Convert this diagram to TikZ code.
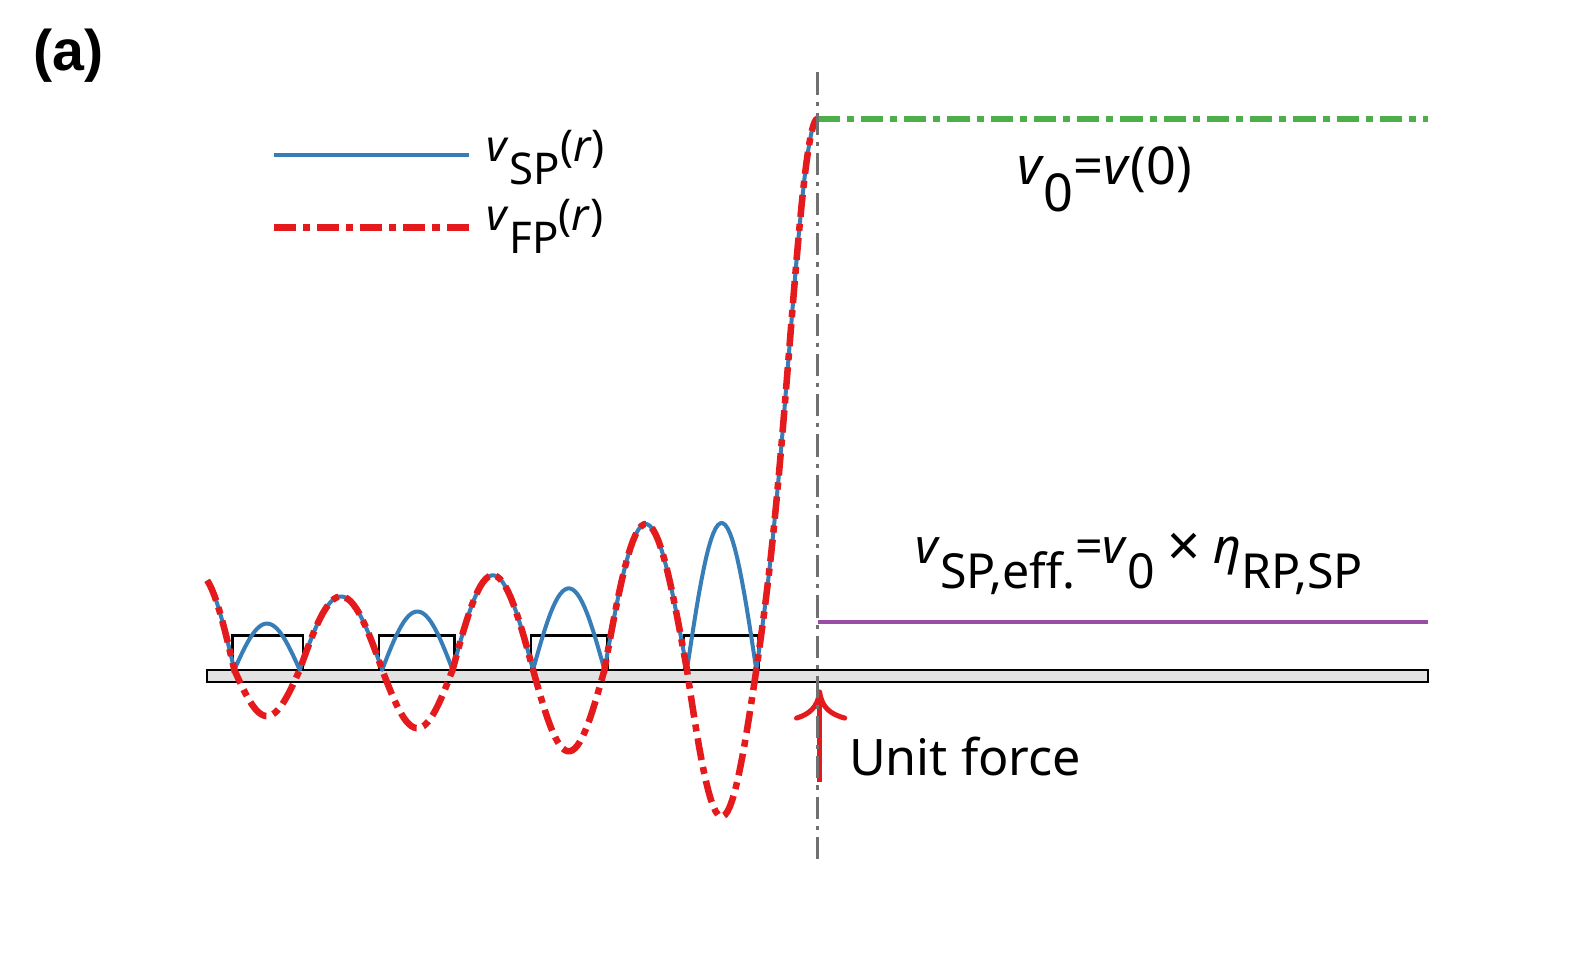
\documentclass[tikz,border=0pt]{standalone}
\usepackage{fontspec}
\setmainfont{Noto Sans}
\newfontfamily\boldarial{Liberation Sans}
\usetikzlibrary{arrows.meta}
\definecolor{cblue}{HTML}{377EB8}
\definecolor{cred}{HTML}{E41A1C}
\definecolor{cgreen}{HTML}{4DAF4A}
\definecolor{cpurple}{HTML}{984EA3}
\definecolor{cgray}{HTML}{707070}
\definecolor{cplate}{HTML}{E2E2E2}
\newcommand\lowsub[1]{\raisebox{-0.52em}{#1}}
\tikzset{
  blueline/.style={draw=cblue, line width=4pt, line join=round},
  redline/.style={draw=cred, line width=6.5pt, dash pattern=on 22pt off 7pt on 7pt off 7pt},
  greenline/.style={draw=cgreen, line width=6pt, dash pattern=on 22pt off 7pt on 7pt off 7pt},
  purpleline/.style={draw=cpurple, line width=4pt},
  axisline/.style={draw=cgray, line width=2.6pt, dash pattern=on 22pt off 7pt on 4pt off 7pt},
  platebox/.style={draw=black, line width=2.6pt, fill=cplate},
  supbox/.style={draw=black, line width=2.4pt},
  forceline/.style={draw=cred, line width=5pt},
  lbl/.style={inner sep=0pt, anchor=base west, font=\fontsize{43.5}{50}\selectfont},
}
\begin{document}
\begin{tikzpicture}[x=1pt,y=-1pt]
\useasboundingbox (0,0) rectangle (1568,968);
% plate
\draw[platebox] (206,666) rectangle (1420,678);
% support boxes
\draw[supbox] (231,666) -- (231,632) -- (301,632) -- (301,666);
\draw[supbox] (377,666) -- (377,632) -- (452,632) -- (452,666);
\draw[supbox] (528,666) -- (528,632) -- (604,632) -- (604,666);
\draw[supbox] (680,666) -- (680,632) -- (754,632) -- (754,666);
% blue |v|
\draw[blueline]
  plot[domain=206:233,samples=12] (\x,{666-95*sin(180*(\x-163)/70)})
  -- plot[domain=233:298,samples=30] (\x,{666-46*sin(180*(\x-233)/65)})
  -- plot[domain=298:380,samples=30] (\x,{666-73*sin(180*(\x-298)/82)})
  -- plot[domain=380:450,samples=30] (\x,{666-58*sin(180*(\x-380)/70)})
  -- plot[domain=450:530,samples=30] (\x,{666-94*sin(180*(\x-450)/80)})
  -- plot[domain=530:601,samples=30] (\x,{666-81*sin(180*(\x-530)/71)})
  -- plot[domain=601:683,samples=30] (\x,{666-145*sin(180*(\x-601)/82)})
  -- plot[domain=683:752,samples=30] (\x,{666-146*sin(180*(\x-683)/69)})
  -- plot[domain=752:813,samples=40] (\x,{666-548*(0.5*sin(90*(\x-752)/61)+0.5*sin(90*(\x-752)/61)*sin(90*(\x-752)/61)*sin(90*(\x-752)/61))});
% red v
\draw[redline]
  plot[domain=206:233,samples=12] (\x,{666-95*sin(180*(\x-163)/70)})
  -- plot[domain=233:298,samples=30] (\x,{666+46*sin(180*(\x-233)/65)})
  -- plot[domain=298:380,samples=30] (\x,{666-73*sin(180*(\x-298)/82)})
  -- plot[domain=380:450,samples=30] (\x,{666+58*sin(180*(\x-380)/70)})
  -- plot[domain=450:530,samples=30] (\x,{666-94*sin(180*(\x-450)/80)})
  -- plot[domain=530:601,samples=30] (\x,{666+81*sin(180*(\x-530)/71)})
  -- plot[domain=601:683,samples=30] (\x,{666-145*sin(180*(\x-601)/82)})
  -- plot[domain=683:752,samples=30] (\x,{666+146*sin(180*(\x-683)/69)})
  -- plot[domain=752:813,samples=40] (\x,{666-548*(0.5*sin(90*(\x-752)/61)+0.5*sin(90*(\x-752)/61)*sin(90*(\x-752)/61)*sin(90*(\x-752)/61))});
% level lines
\coordinate (g1) at (813,118); \coordinate (g2) at (1420,118);
\draw[greenline] (g1) -- (g2);
\coordinate (p1) at (813,618); \coordinate (p2) at (1420,618);
\draw[purpleline] (p1) -- (p2);
% unit force arrow
\coordinate (fs) at (815,778); \coordinate (fe) at (815,688);
\coordinate (bl) at (792,714); \coordinate (br) at (840,714);
\draw[forceline] (fs) -- (fe);
\draw[forceline, line cap=round, line join=round] (bl) .. controls (805,710) and (813,703) .. (fe) .. controls (817,703) and (825,710) .. (br);
% axis
\coordinate (a1) at (813,72); \coordinate (a2) at (813,860);
\draw[axisline] (a1) -- (a2);
% legend
\coordinate (lb1) at (272,154); \coordinate (lb2) at (466,154);
\draw[blueline] (lb1) -- (lb2);
\coordinate (lr1) at (272,226); \coordinate (lr2) at (466,226);
\draw[redline] (lr1) -- (lr2);
\node[lbl] (lsp) at (484,161) {\textit{v}\lowsub{SP}(\textit{r})};
\node[lbl] (lfp) at (484,229) {\textit{v}\lowsub{FP}(\textit{r})};
% labels
\node[lbl, font=\fontsize{52}{60}\selectfont] (v0) at (1011,183) {\textit{v}\lowsub{0}=\textit{v}(0)};
\node[lbl, font=\fontsize{48}{56}\selectfont] (veff) at (910,560) {\textit{v}\lowsub{SP,eff.}=\textit{v}\lowsub{0} \raisebox{-0.06em}{\scalebox{1.2}{×}} \textit{η}\lowsub{RP,SP}};
\node[lbl, font=\fontsize{50}{58}\selectfont] (uf) at (844,771) {Unit force};
\node[inner sep=0pt, anchor=base west, font=\boldarial\bfseries\fontsize{57}{64}\selectfont] (pa) at (33,70) {(a)};
\end{tikzpicture}
\end{document}
